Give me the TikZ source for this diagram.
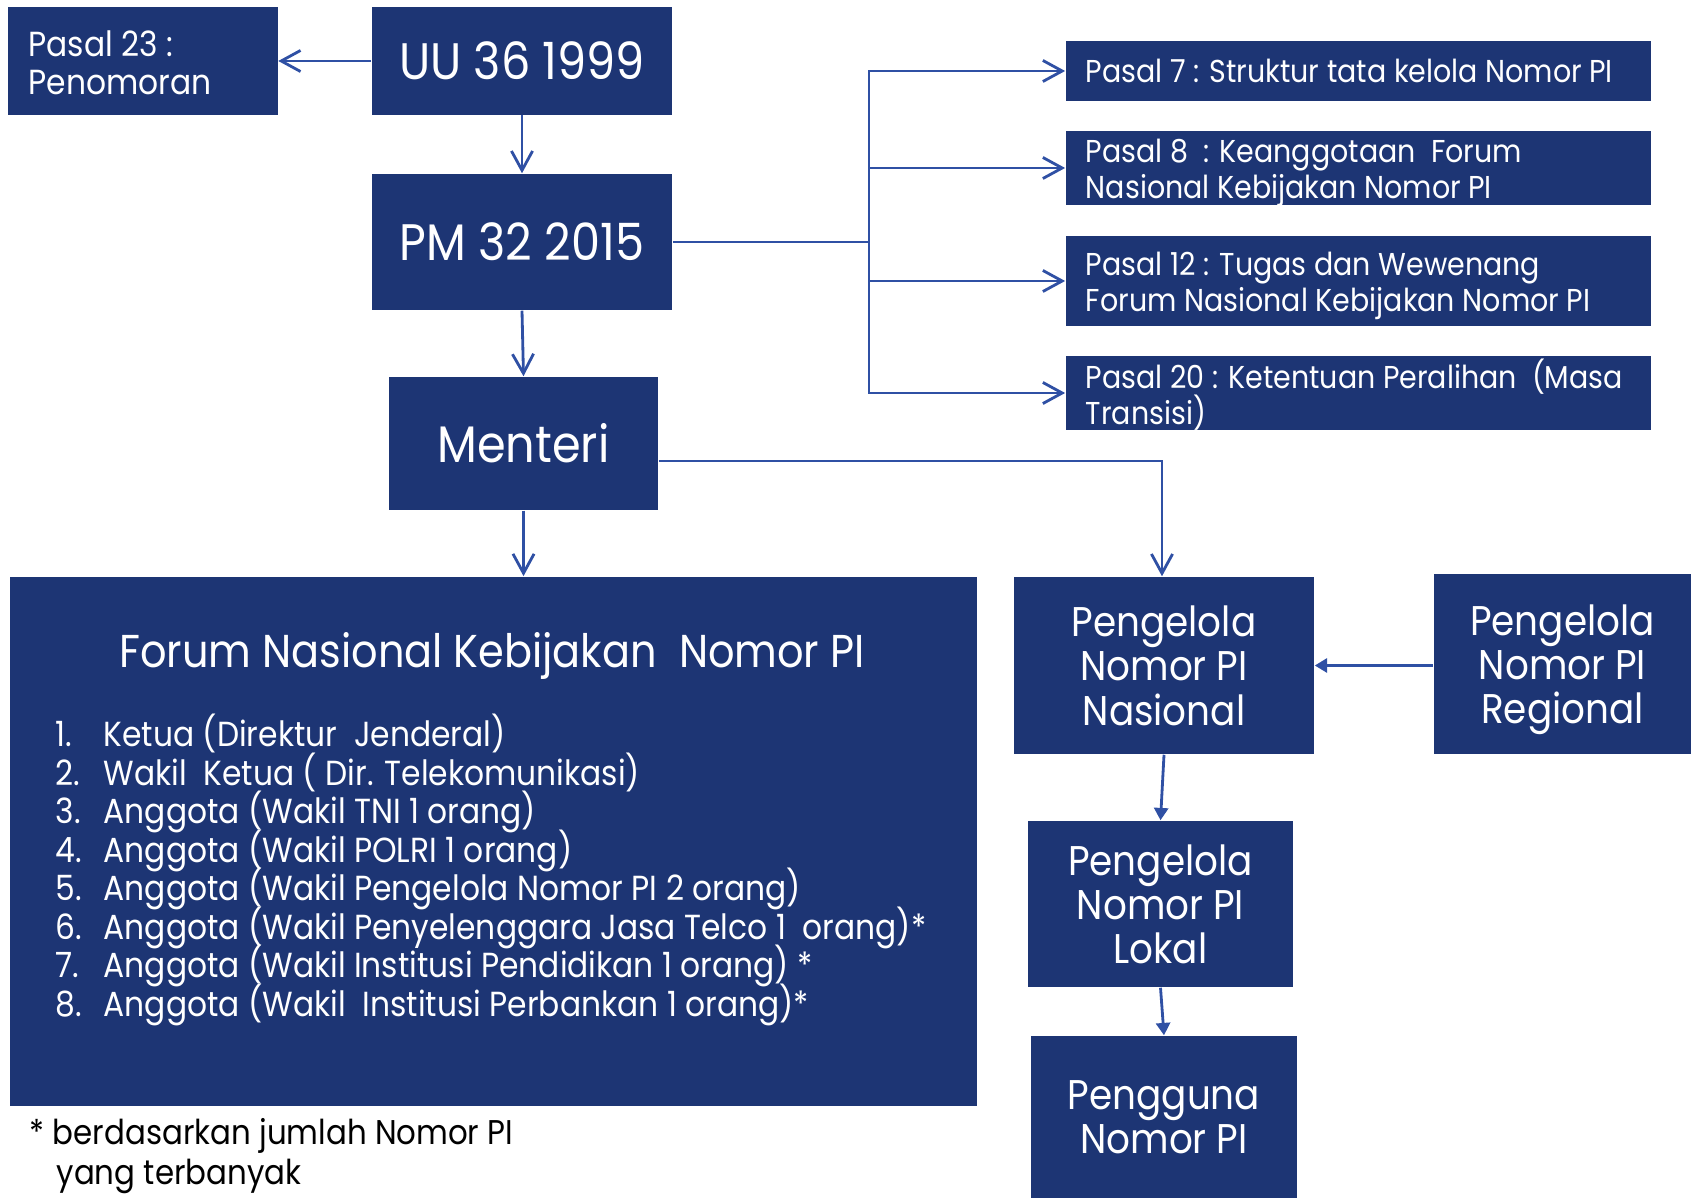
\documentclass[tikz,border=0pt]{standalone}
\usepackage{fontspec}
\setmainfont{Poppins}[FakeStretch=0.9]
\usetikzlibrary{arrows.meta}
\definecolor{boxblue}{RGB}{29,53,116}
\definecolor{lineblue}{RGB}{47,80,164}
\newcommand\mytightls{\lineskiplimit=-20pt\relax\lineskip=0pt\relax}
\tikzset{
  box/.style={fill=boxblue, text=white, inner sep=0pt, align=center},
  bigtxt/.style={font=\fontsize{14.6}{17}\selectfont},
  midtxt/.style={font=\fontsize{11.8}{12.6}\selectfont\mytightls, text depth=0pt},
  ptext/.style={text=white, inner sep=0pt, align=left, anchor=west, font=\fontsize{9}{10.2}\selectfont\mytightls},
  listtxt/.style={text=white, inner sep=0pt, anchor=base west, font=\fontsize{9.9}{11}\selectfont},
  conn/.style={draw=lineblue, line width=0.8pt},
  openarr/.style={conn, -{Straight Barb[length=5.5pt,width=6pt,line width=0.8pt]}},
  fillarr/.style={conn, -{Triangle[length=3.5pt,width=4pt]}},
}
\begin{document}
\begin{tikzpicture}[x=0.01cm,y=-0.01cm]
\useasboundingbox (0,0) rectangle (1697,1198);
% boxes
\node[box, minimum width=2.69cm, minimum height=1.07cm] (p23) at (143,61) {};
\node[ptext, font=\fontsize{9.9}{10.8}\selectfont\mytightls] (p23t) at ([xshift=0.2cm,yshift=-0.02cm]p23.west) {Pasal 23 :\\Penomoran};
\node[box, bigtxt, minimum width=3.00cm, minimum height=1.07cm] (uu) at (522,61) {UU 36 1999};
\node[box, bigtxt, minimum width=3.00cm, minimum height=1.36cm] (pm) at (522,242) {PM 32 2015};
\node[box, bigtxt, minimum width=2.69cm, minimum height=1.33cm] (men) at (523.5,443.5) {Menteri};

\node[box, minimum width=5.85cm, minimum height=0.60cm] (p7) at (1358.5,71) {};
\node[box, minimum width=5.85cm, minimum height=0.74cm] (p8) at (1358.5,168) {};
\node[box, minimum width=5.85cm, minimum height=0.90cm] (p12) at (1358.5,281) {};
\node[box, minimum width=5.85cm, minimum height=0.74cm] (p20) at (1358.5,393) {};
\node[ptext] (p7t) at ([xshift=0.2cm]p7.west) {Pasal 7 : Struktur tata kelola Nomor PI};
\node[ptext] (p8t) at ([xshift=0.2cm,yshift=-0.045cm]p8.west) {Pasal 8\ \ : Keanggotaan\ \ Forum\\Nasional Kebijakan Nomor PI};
\node[ptext] (p12t) at ([xshift=0.2cm,yshift=-0.045cm]p12.west) {Pasal 12 : Tugas dan Wewenang\\Forum Nasional Kebijakan Nomor PI};
\node[ptext] (p20t) at ([xshift=0.2cm,yshift=-0.02cm]p20.west) {Pasal 20 : Ketentuan Peralihan\ \ (Masa\\Transisi)};

\node[box, minimum width=9.67cm, minimum height=5.29cm] (forum) at (493.5,841.5) {};
\node[text=white, inner sep=0pt, anchor=base, font=\fontsize{13.1}{16}\selectfont] (ftitle) at (492,668) {Forum Nasional Kebijakan\ \ Nomor PI};
\foreach \i/\t in {1/{Ketua (Direktur\ \ Jenderal)},
                   2/{Wakil\ \ Ketua ( Dir. Telekomunikasi)},
                   3/{Anggota (Wakil TNI 1 orang)},
                   4/{Anggota (Wakil POLRI 1 orang)},
                   5/{Anggota (Wakil Pengelola Nomor PI 2 orang)},
                   6/{Anggota (Wakil Penyelenggara Jasa Telco 1\ \ orang)*},
                   7/{Anggota (Wakil Institusi Pendidikan 1 orang) *},
                   8/{Anggota (Wakil\ \ Institusi Perbankan 1 orang)*}} {
  \node[listtxt] (num\i) at (55,{747+(\i-1)*38.5}) {\i.};
  \node[listtxt] (item\i) at (103,{747+(\i-1)*38.5}) {\t};
}

\node[box, midtxt, minimum width=3.00cm, minimum height=1.77cm] (nas) at (1164,665.5) {Pengelola\\Nomor PI\\Nasional};
\node[box, midtxt, minimum width=2.57cm, minimum height=1.80cm] (reg) at (1562.5,664) {Pengelola\\Nomor PI\\Regional};
\node[box, midtxt, minimum width=2.65cm, minimum height=1.66cm] (lok) at (1160.5,904) {Pengelola\\Nomor PI\\Lokal};
\node[box, midtxt, minimum width=2.66cm, minimum height=1.62cm] (peng) at (1164,1117) {Pengguna\\Nomor PI};

\node[inner sep=0pt, anchor=west, align=left, font=\fontsize{9.75}{11.4}\selectfont\mytightls] (note) at (29,1156) {* berdasarkan jumlah Nomor PI\\\hspace*{0.27cm}yang terbanyak};

% connectors
\coordinate (br) at (869,242);
\coordinate (mturn) at (1162,461);
\draw[openarr] (uu.west) -- (p23.east);
\draw[openarr] (uu.south) -- (pm.north);
\draw[openarr] (pm.south) -- (men.north);
\draw[conn] (pm.east) -- (br);
\draw[openarr] (br) |- (p7.west);
\draw[openarr] (br) |- (p8.west);
\draw[openarr] (br) |- (p12.west);
\draw[openarr] (br) |- (p20.west);
\draw[openarr] (men.south) -- (men.south |- forum.north);
\draw[openarr] (men.east |- mturn) -- (mturn) -- (mturn |- nas.north);
\draw[fillarr] (reg.west |- nas.east) -- (nas.east);
\draw[fillarr] (nas.south) -- (lok.north);
\draw[fillarr] (lok.south) -- (peng.north);
\end{tikzpicture}
\end{document}
